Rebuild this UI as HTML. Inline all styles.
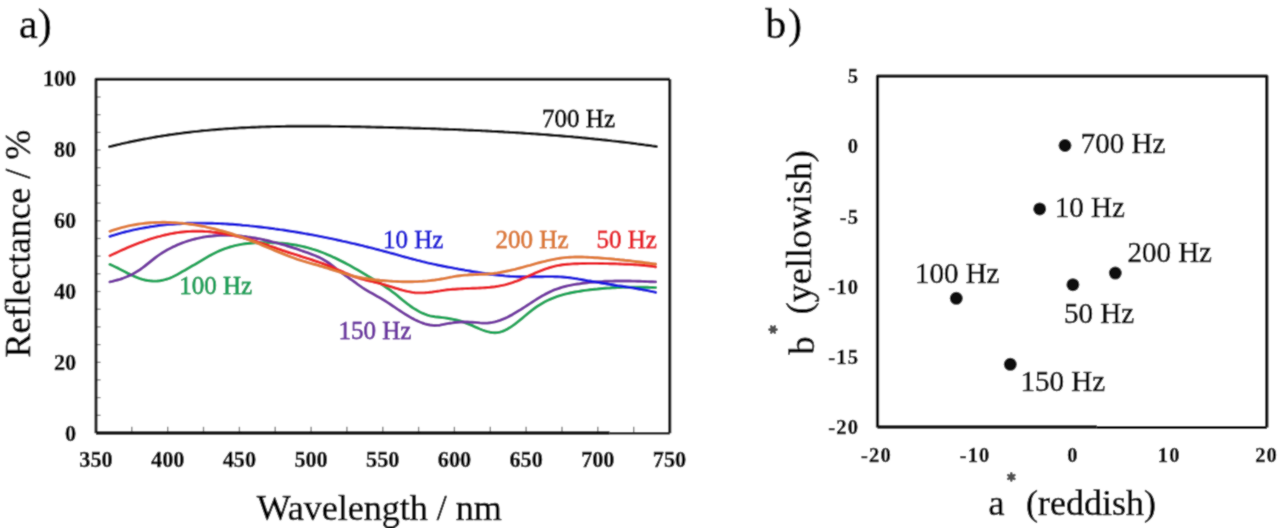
<!DOCTYPE html>
<html><head><meta charset="utf-8"><style>
html,body{margin:0;padding:0;background:#fff;}
body{width:1280px;height:528px;overflow:hidden;}
svg{display:block;}
text{font-family:"Liberation Serif",serif;stroke-width:0.55px;stroke-linejoin:round;}
.tk{stroke:#808080;}
.cv{fill:none;stroke-width:2.9;stroke-linecap:round;stroke-linejoin:round;}
.box{fill:none;stroke:#0a0a0a;stroke-linejoin:round;}
.tl{font-size:22.2px;font-weight:bold;fill:#000;stroke:#000;stroke-width:0.4px;}
.tb{font-size:20.5px;font-weight:bold;fill:#000;stroke:#000;stroke-width:0.4px;letter-spacing:1.2px;}
.la{font-size:25px;stroke-width:0.8px;}
.lb{font-size:29px;fill:#000;stroke:#000;}
.at{font-size:36px;fill:#000;stroke:#000;stroke-width:0.6px;}
.pl{font-size:42px;fill:#000;stroke:#000;stroke-width:0.6px;}
.astb{fill:none;stroke:#505050;stroke-width:2.6;stroke-linecap:round;}
</style></head><body>
<svg width="1280" height="528" viewBox="0 0 1280 528">
<defs><filter id="soft" x="0" y="0" width="1" height="1"><feConvolveMatrix order="3" kernelMatrix="1 2 1 2 12 2 1 2 1" divisor="24" edgeMode="duplicate"/></filter></defs>
<g filter="url(#soft)">
<rect width="1280" height="528" fill="#fff"/>
<line x1="96.0" y1="415.3" x2="100.6" y2="415.3" class="tk" stroke-width="1.3"/>
<line x1="96.0" y1="397.6" x2="100.6" y2="397.6" class="tk" stroke-width="1.3"/>
<line x1="96.0" y1="379.9" x2="100.6" y2="379.9" class="tk" stroke-width="1.3"/>
<line x1="96.0" y1="362.3" x2="100.6" y2="362.3" class="tk" stroke-width="1.3"/>
<line x1="96.0" y1="344.6" x2="100.6" y2="344.6" class="tk" stroke-width="1.3"/>
<line x1="96.0" y1="326.9" x2="100.6" y2="326.9" class="tk" stroke-width="1.3"/>
<line x1="96.0" y1="309.2" x2="100.6" y2="309.2" class="tk" stroke-width="1.3"/>
<line x1="96.0" y1="291.5" x2="100.6" y2="291.5" class="tk" stroke-width="1.3"/>
<line x1="96.0" y1="273.8" x2="100.6" y2="273.8" class="tk" stroke-width="1.3"/>
<line x1="96.0" y1="256.1" x2="100.6" y2="256.1" class="tk" stroke-width="1.3"/>
<line x1="96.0" y1="238.5" x2="100.6" y2="238.5" class="tk" stroke-width="1.3"/>
<line x1="96.0" y1="220.8" x2="100.6" y2="220.8" class="tk" stroke-width="1.3"/>
<line x1="96.0" y1="203.1" x2="100.6" y2="203.1" class="tk" stroke-width="1.3"/>
<line x1="96.0" y1="185.4" x2="100.6" y2="185.4" class="tk" stroke-width="1.3"/>
<line x1="96.0" y1="167.7" x2="100.6" y2="167.7" class="tk" stroke-width="1.3"/>
<line x1="96.0" y1="150.0" x2="100.6" y2="150.0" class="tk" stroke-width="1.3"/>
<line x1="96.0" y1="132.4" x2="100.6" y2="132.4" class="tk" stroke-width="1.3"/>
<line x1="96.0" y1="114.7" x2="100.6" y2="114.7" class="tk" stroke-width="1.3"/>
<line x1="96.0" y1="97.0" x2="100.6" y2="97.0" class="tk" stroke-width="1.3"/>
<line x1="131.8" y1="433.0" x2="131.8" y2="426.8" class="tk" stroke-width="1.4"/>
<line x1="167.7" y1="433.0" x2="167.7" y2="426.8" class="tk" stroke-width="1.4"/>
<line x1="203.5" y1="433.0" x2="203.5" y2="426.8" class="tk" stroke-width="1.4"/>
<line x1="239.4" y1="433.0" x2="239.4" y2="426.8" class="tk" stroke-width="1.4"/>
<line x1="275.2" y1="433.0" x2="275.2" y2="426.8" class="tk" stroke-width="1.4"/>
<line x1="311.1" y1="433.0" x2="311.1" y2="426.8" class="tk" stroke-width="1.4"/>
<line x1="346.9" y1="433.0" x2="346.9" y2="426.8" class="tk" stroke-width="1.4"/>
<line x1="382.8" y1="433.0" x2="382.8" y2="426.8" class="tk" stroke-width="1.4"/>
<line x1="418.6" y1="433.0" x2="418.6" y2="426.8" class="tk" stroke-width="1.4"/>
<line x1="454.4" y1="433.0" x2="454.4" y2="426.8" class="tk" stroke-width="1.4"/>
<line x1="490.3" y1="433.0" x2="490.3" y2="426.8" class="tk" stroke-width="1.4"/>
<line x1="526.1" y1="433.0" x2="526.1" y2="426.8" class="tk" stroke-width="1.4"/>
<line x1="562.0" y1="433.0" x2="562.0" y2="426.8" class="tk" stroke-width="1.4"/>
<line x1="597.8" y1="433.0" x2="597.8" y2="426.8" class="tk" stroke-width="1.4"/>
<line x1="633.7" y1="433.0" x2="633.7" y2="426.8" class="tk" stroke-width="1.4"/>
<path d="M109.5,146.7 L112.0,146.1 L114.5,145.5 L117.0,144.9 L119.5,144.3 L122.0,143.7 L124.5,143.1 L127.0,142.6 L129.5,142.0 L132.0,141.5 L134.5,141.0 L137.0,140.5 L139.5,140.0 L142.0,139.5 L144.5,139.0 L147.0,138.6 L149.5,138.1 L152.0,137.7 L154.5,137.2 L157.0,136.8 L159.5,136.4 L162.0,136.0 L164.5,135.6 L167.0,135.2 L169.5,134.8 L172.0,134.5 L174.5,134.1 L177.0,133.8 L179.5,133.5 L182.0,133.1 L184.5,132.8 L187.0,132.5 L189.5,132.2 L192.0,131.9 L194.5,131.6 L197.0,131.4 L199.5,131.1 L202.0,130.8 L204.5,130.6 L207.0,130.4 L209.5,130.1 L212.0,129.9 L214.5,129.7 L217.0,129.5 L219.5,129.3 L222.0,129.1 L224.5,128.9 L227.0,128.7 L229.5,128.6 L232.0,128.4 L234.5,128.2 L237.0,128.1 L239.5,127.9 L242.0,127.8 L244.5,127.7 L247.0,127.6 L249.5,127.4 L252.0,127.3 L254.5,127.2 L257.0,127.1 L259.5,127.0 L262.0,126.9 L264.5,126.9 L267.0,126.8 L269.5,126.7 L272.0,126.6 L274.5,126.6 L277.0,126.5 L279.5,126.5 L282.0,126.4 L284.5,126.4 L287.0,126.3 L289.5,126.3 L292.0,126.3 L294.5,126.3 L297.0,126.2 L299.5,126.2 L302.0,126.2 L304.5,126.2 L307.0,126.2 L309.5,126.2 L312.0,126.2 L314.5,126.2 L317.0,126.2 L319.5,126.2 L322.0,126.3 L324.5,126.3 L327.0,126.3 L329.5,126.3 L332.0,126.4 L334.5,126.4 L337.0,126.4 L339.5,126.5 L342.0,126.5 L344.5,126.5 L347.0,126.6 L349.5,126.6 L352.0,126.7 L354.5,126.7 L357.0,126.8 L359.5,126.8 L362.0,126.9 L364.5,126.9 L367.0,127.0 L369.5,127.0 L372.0,127.1 L374.5,127.1 L377.0,127.2 L379.5,127.2 L382.0,127.3 L384.5,127.4 L387.0,127.4 L389.5,127.5 L392.0,127.5 L394.5,127.6 L397.0,127.7 L399.5,127.7 L402.0,127.8 L404.5,127.9 L407.0,127.9 L409.5,128.0 L412.0,128.1 L414.5,128.2 L417.0,128.2 L419.5,128.3 L422.0,128.4 L424.5,128.5 L427.0,128.6 L429.5,128.6 L432.0,128.7 L434.5,128.8 L437.0,128.9 L439.5,129.0 L442.0,129.1 L444.5,129.2 L447.0,129.3 L449.5,129.4 L452.0,129.4 L454.5,129.5 L457.0,129.6 L459.5,129.7 L462.0,129.9 L464.5,130.0 L467.0,130.1 L469.5,130.2 L472.0,130.3 L474.5,130.4 L477.0,130.5 L479.5,130.6 L482.0,130.8 L484.5,130.9 L487.0,131.0 L489.5,131.1 L492.0,131.3 L494.5,131.4 L497.0,131.5 L499.5,131.7 L502.0,131.8 L504.5,132.0 L507.0,132.1 L509.5,132.3 L512.0,132.4 L514.5,132.6 L517.0,132.7 L519.5,132.9 L522.0,133.0 L524.5,133.2 L527.0,133.4 L529.5,133.5 L532.0,133.7 L534.5,133.9 L537.0,134.0 L539.5,134.2 L542.0,134.4 L544.5,134.6 L547.0,134.8 L549.5,135.0 L552.0,135.2 L554.5,135.4 L557.0,135.6 L559.5,135.8 L562.0,136.0 L564.5,136.2 L567.0,136.4 L569.5,136.6 L572.0,136.8 L574.5,137.1 L577.0,137.3 L579.5,137.5 L582.0,137.8 L584.5,138.0 L587.0,138.2 L589.5,138.5 L592.0,138.7 L594.5,139.0 L597.0,139.2 L599.5,139.5 L602.0,139.8 L604.5,140.0 L607.0,140.3 L609.5,140.6 L612.0,140.9 L614.5,141.1 L617.0,141.4 L619.5,141.7 L622.0,142.0 L624.5,142.3 L627.0,142.6 L629.5,142.9 L632.0,143.2 L634.5,143.5 L637.0,143.9 L639.5,144.2 L642.0,144.5 L644.5,144.9 L647.0,145.2 L649.5,145.5 L652.0,145.9 L654.5,146.2 L656.4,146.5" stroke="#111111" class="cv"/>
<path d="M109.9,264.4 L112.4,265.5 L114.9,266.7 L117.4,267.9 L119.9,269.2 L122.4,270.5 L124.9,271.8 L127.4,273.1 L129.9,274.3 L132.4,275.5 L134.9,276.7 L137.4,277.7 L139.9,278.6 L142.4,279.4 L144.9,280.0 L147.4,280.5 L149.9,280.8 L152.4,281.0 L154.9,281.1 L157.4,281.0 L159.9,280.7 L162.4,280.3 L164.9,279.7 L167.4,279.0 L169.9,278.1 L172.4,277.0 L174.9,275.8 L177.4,274.5 L179.9,273.1 L182.4,271.6 L184.9,270.2 L187.4,268.7 L189.9,267.3 L192.4,265.8 L194.9,264.4 L197.4,262.9 L199.9,261.4 L202.4,259.9 L204.9,258.4 L207.4,257.0 L209.9,255.6 L212.4,254.3 L214.9,253.0 L217.4,251.8 L219.9,250.6 L222.4,249.6 L224.9,248.6 L227.4,247.8 L229.9,247.0 L232.4,246.3 L234.9,245.6 L237.4,245.1 L239.9,244.6 L242.4,244.1 L244.9,243.8 L247.4,243.5 L249.9,243.2 L252.4,243.0 L254.9,242.8 L257.4,242.7 L259.9,242.6 L262.4,242.6 L264.9,242.6 L267.4,242.6 L269.9,242.6 L272.4,242.7 L274.9,242.8 L277.4,242.9 L279.9,243.1 L282.4,243.3 L284.9,243.5 L287.4,243.8 L289.9,244.1 L292.4,244.5 L294.9,244.9 L297.4,245.3 L299.9,245.8 L302.4,246.4 L304.9,247.0 L307.4,247.6 L309.9,248.3 L312.4,249.1 L314.9,249.8 L317.4,250.7 L319.9,251.6 L322.4,252.5 L324.9,253.5 L327.4,254.6 L329.9,255.6 L332.4,256.8 L334.9,257.9 L337.4,259.1 L339.9,260.4 L342.4,261.6 L344.9,262.9 L347.4,264.2 L349.9,265.6 L352.4,267.0 L354.9,268.4 L357.4,269.8 L359.9,271.3 L362.4,272.8 L364.9,274.3 L367.4,275.8 L369.9,277.2 L372.4,278.7 L374.9,280.2 L377.4,281.8 L379.9,283.3 L382.4,284.9 L384.9,286.5 L387.4,288.2 L389.9,289.9 L392.4,291.8 L394.9,293.7 L397.4,295.7 L399.9,297.8 L402.4,299.9 L404.9,301.9 L407.4,303.8 L409.9,305.7 L412.4,307.5 L414.9,309.1 L417.4,310.6 L419.9,312.0 L422.4,313.2 L424.9,314.2 L427.4,315.1 L429.9,315.8 L432.4,316.3 L434.9,316.7 L437.4,317.0 L439.9,317.3 L442.4,317.6 L444.9,317.9 L447.4,318.3 L449.9,318.7 L452.4,319.1 L454.9,319.6 L457.4,320.2 L459.9,320.9 L462.4,321.7 L464.9,322.6 L467.4,323.6 L469.9,324.6 L472.4,325.7 L474.9,326.8 L477.4,327.9 L479.9,329.0 L482.4,330.0 L484.9,330.9 L487.4,331.6 L489.9,332.2 L492.4,332.6 L494.9,332.7 L497.4,332.6 L499.9,332.1 L502.4,331.4 L504.9,330.3 L507.4,329.1 L509.9,327.6 L512.4,325.9 L514.9,324.1 L517.4,322.2 L519.9,320.2 L522.4,318.1 L524.9,316.0 L527.4,313.9 L529.9,311.9 L532.4,309.9 L534.9,308.0 L537.4,306.3 L539.9,304.7 L542.4,303.2 L544.9,301.8 L547.4,300.5 L549.9,299.4 L552.4,298.3 L554.9,297.3 L557.4,296.4 L559.9,295.6 L562.4,294.9 L564.9,294.2 L567.4,293.6 L569.9,293.0 L572.4,292.5 L574.9,292.0 L577.4,291.6 L579.9,291.2 L582.4,290.8 L584.9,290.4 L587.4,290.1 L589.9,289.8 L592.4,289.5 L594.9,289.2 L597.4,289.0 L599.9,288.7 L602.4,288.5 L604.9,288.3 L607.4,288.1 L609.9,288.0 L612.4,287.8 L614.9,287.7 L617.4,287.6 L619.9,287.5 L622.4,287.4 L624.9,287.3 L627.4,287.3 L629.9,287.2 L632.4,287.2 L634.9,287.2 L637.4,287.2 L639.9,287.2 L642.4,287.2 L644.9,287.3 L647.4,287.3 L649.9,287.4 L652.4,287.5 L654.9,287.6 L655.7,287.6" stroke="#10a454" class="cv"/>
<path d="M109.9,281.9 L112.4,281.4 L114.9,280.7 L117.4,280.0 L119.9,279.3 L122.4,278.5 L124.9,277.5 L127.4,276.5 L129.9,275.4 L132.4,274.2 L134.9,272.8 L137.4,271.3 L139.9,269.7 L142.4,267.9 L144.9,266.0 L147.4,264.0 L149.9,262.0 L152.4,260.0 L154.9,258.0 L157.4,256.1 L159.9,254.4 L162.4,252.8 L164.9,251.3 L167.4,249.8 L169.9,248.5 L172.4,247.2 L174.9,246.1 L177.4,244.9 L179.9,243.9 L182.4,242.9 L184.9,242.0 L187.4,241.1 L189.9,240.4 L192.4,239.6 L194.9,239.0 L197.4,238.4 L199.9,237.8 L202.4,237.3 L204.9,236.9 L207.4,236.5 L209.9,236.2 L212.4,236.0 L214.9,235.7 L217.4,235.6 L219.9,235.4 L222.4,235.4 L224.9,235.3 L227.4,235.3 L229.9,235.4 L232.4,235.5 L234.9,235.6 L237.4,235.8 L239.9,236.0 L242.4,236.3 L244.9,236.5 L247.4,236.9 L249.9,237.2 L252.4,237.6 L254.9,238.0 L257.4,238.5 L259.9,238.9 L262.4,239.4 L264.9,240.0 L267.4,240.5 L269.9,241.1 L272.4,241.8 L274.9,242.4 L277.4,243.1 L279.9,243.8 L282.4,244.5 L284.9,245.2 L287.4,246.0 L289.9,246.8 L292.4,247.6 L294.9,248.4 L297.4,249.2 L299.9,250.1 L302.4,251.0 L304.9,251.8 L307.4,252.7 L309.9,253.7 L312.4,254.6 L314.9,255.5 L317.4,256.6 L319.9,257.7 L322.4,259.0 L324.9,260.4 L327.4,262.0 L329.9,263.8 L332.4,265.6 L334.9,267.6 L337.4,269.6 L339.9,271.5 L342.4,273.3 L344.9,275.2 L347.4,276.9 L349.9,278.7 L352.4,280.4 L354.9,282.2 L357.4,284.1 L359.9,285.9 L362.4,287.6 L364.9,289.2 L367.4,290.7 L369.9,292.2 L372.4,293.6 L374.9,295.0 L377.4,296.4 L379.9,297.8 L382.4,299.3 L384.9,300.8 L387.4,302.4 L389.9,304.0 L392.4,305.7 L394.9,307.4 L397.4,309.1 L399.9,310.7 L402.4,312.4 L404.9,314.0 L407.4,315.5 L409.9,317.0 L412.4,318.4 L414.9,319.7 L417.4,320.9 L419.9,322.0 L422.4,323.0 L424.9,323.8 L427.4,324.5 L429.9,325.0 L432.4,325.3 L434.9,325.5 L437.4,325.4 L439.9,325.2 L442.4,324.7 L444.9,324.2 L447.4,323.7 L449.9,323.2 L452.4,322.9 L454.9,322.5 L457.4,322.3 L459.9,322.1 L462.4,322.0 L464.9,322.0 L467.4,322.0 L469.9,322.1 L472.4,322.2 L474.9,322.4 L477.4,322.6 L479.9,322.9 L482.4,323.1 L484.9,323.1 L487.4,323.1 L489.9,322.8 L492.4,322.4 L494.9,321.9 L497.4,321.2 L499.9,320.4 L502.4,319.4 L504.9,318.4 L507.4,317.2 L509.9,315.9 L512.4,314.6 L514.9,313.1 L517.4,311.6 L519.9,310.1 L522.4,308.5 L524.9,306.9 L527.4,305.2 L529.9,303.6 L532.4,302.0 L534.9,300.4 L537.4,298.8 L539.9,297.3 L542.4,295.8 L544.9,294.4 L547.4,293.1 L549.9,291.9 L552.4,290.7 L554.9,289.7 L557.4,288.8 L559.9,288.0 L562.4,287.2 L564.9,286.5 L567.4,285.9 L569.9,285.4 L572.4,284.9 L574.9,284.4 L577.4,284.0 L579.9,283.7 L582.4,283.3 L584.9,283.0 L587.4,282.7 L589.9,282.4 L592.4,282.2 L594.9,282.0 L597.4,281.8 L599.9,281.6 L602.4,281.5 L604.9,281.3 L607.4,281.2 L609.9,281.1 L612.4,281.1 L614.9,281.0 L617.4,281.0 L619.9,281.0 L622.4,281.0 L624.9,281.0 L627.4,281.0 L629.9,281.0 L632.4,281.1 L634.9,281.1 L637.4,281.2 L639.9,281.3 L642.4,281.4 L644.9,281.5 L647.4,281.6 L649.9,281.7 L652.4,281.8 L654.9,281.9 L655.7,281.9" stroke="#7032a0" class="cv"/>
<path d="M109.9,236.4 L112.4,235.6 L114.9,234.9 L117.4,234.1 L119.9,233.4 L122.4,232.7 L124.9,232.0 L127.4,231.4 L129.9,230.8 L132.4,230.2 L134.9,229.7 L137.4,229.1 L139.9,228.6 L142.4,228.1 L144.9,227.7 L147.4,227.3 L149.9,226.8 L152.4,226.5 L154.9,226.1 L157.4,225.8 L159.9,225.4 L162.4,225.1 L164.9,224.9 L167.4,224.6 L169.9,224.4 L172.4,224.2 L174.9,224.0 L177.4,223.8 L179.9,223.7 L182.4,223.5 L184.9,223.4 L187.4,223.3 L189.9,223.2 L192.4,223.2 L194.9,223.1 L197.4,223.1 L199.9,223.1 L202.4,223.1 L204.9,223.1 L207.4,223.2 L209.9,223.2 L212.4,223.3 L214.9,223.4 L217.4,223.5 L219.9,223.6 L222.4,223.7 L224.9,223.9 L227.4,224.0 L229.9,224.2 L232.4,224.3 L234.9,224.5 L237.4,224.7 L239.9,224.9 L242.4,225.2 L244.9,225.4 L247.4,225.6 L249.9,225.9 L252.4,226.1 L254.9,226.4 L257.4,226.7 L259.9,227.0 L262.4,227.3 L264.9,227.6 L267.4,227.9 L269.9,228.2 L272.4,228.5 L274.9,228.9 L277.4,229.2 L279.9,229.6 L282.4,229.9 L284.9,230.3 L287.4,230.7 L289.9,231.1 L292.4,231.5 L294.9,231.9 L297.4,232.3 L299.9,232.7 L302.4,233.1 L304.9,233.6 L307.4,234.0 L309.9,234.5 L312.4,234.9 L314.9,235.4 L317.4,235.9 L319.9,236.4 L322.4,236.9 L324.9,237.4 L327.4,237.9 L329.9,238.4 L332.4,238.9 L334.9,239.4 L337.4,240.0 L339.9,240.5 L342.4,241.1 L344.9,241.6 L347.4,242.2 L349.9,242.8 L352.4,243.4 L354.9,243.9 L357.4,244.5 L359.9,245.1 L362.4,245.7 L364.9,246.4 L367.4,247.0 L369.9,247.6 L372.4,248.2 L374.9,248.9 L377.4,249.5 L379.9,250.2 L382.4,250.8 L384.9,251.5 L387.4,252.2 L389.9,252.9 L392.4,253.5 L394.9,254.2 L397.4,254.9 L399.9,255.6 L402.4,256.3 L404.9,257.0 L407.4,257.6 L409.9,258.3 L412.4,259.0 L414.9,259.6 L417.4,260.3 L419.9,260.9 L422.4,261.6 L424.9,262.2 L427.4,262.8 L429.9,263.3 L432.4,263.9 L434.9,264.4 L437.4,265.0 L439.9,265.5 L442.4,266.0 L444.9,266.5 L447.4,267.0 L449.9,267.4 L452.4,267.9 L454.9,268.4 L457.4,268.8 L459.9,269.3 L462.4,269.7 L464.9,270.2 L467.4,270.6 L469.9,271.0 L472.4,271.5 L474.9,271.9 L477.4,272.3 L479.9,272.7 L482.4,273.1 L484.9,273.5 L487.4,273.8 L489.9,274.2 L492.4,274.5 L494.9,274.8 L497.4,275.1 L499.9,275.4 L502.4,275.6 L504.9,275.9 L507.4,276.1 L509.9,276.3 L512.4,276.4 L514.9,276.6 L517.4,276.7 L519.9,276.8 L522.4,276.8 L524.9,276.8 L527.4,276.8 L529.9,276.8 L532.4,276.8 L534.9,276.8 L537.4,276.7 L539.9,276.7 L542.4,276.7 L544.9,276.6 L547.4,276.6 L549.9,276.6 L552.4,276.6 L554.9,276.7 L557.4,276.8 L559.9,276.9 L562.4,277.0 L564.9,277.2 L567.4,277.5 L569.9,277.8 L572.4,278.1 L574.9,278.5 L577.4,278.8 L579.9,279.3 L582.4,279.7 L584.9,280.1 L587.4,280.6 L589.9,281.0 L592.4,281.5 L594.9,281.9 L597.4,282.4 L599.9,282.8 L602.4,283.2 L604.9,283.6 L607.4,284.0 L609.9,284.4 L612.4,284.8 L614.9,285.2 L617.4,285.6 L619.9,285.9 L622.4,286.3 L624.9,286.7 L627.4,287.1 L629.9,287.5 L632.4,287.9 L634.9,288.3 L637.4,288.8 L639.9,289.2 L642.4,289.7 L644.9,290.1 L647.4,290.6 L649.9,291.1 L652.4,291.6 L654.9,292.2 L655.7,292.4" stroke="#1414e0" class="cv"/>
<path d="M109.9,255.7 L112.4,254.5 L114.9,253.4 L117.4,252.2 L119.9,251.0 L122.4,249.9 L124.9,248.8 L127.4,247.7 L129.9,246.7 L132.4,245.6 L134.9,244.6 L137.4,243.6 L139.9,242.7 L142.4,241.8 L144.9,240.9 L147.4,240.0 L149.9,239.2 L152.4,238.4 L154.9,237.7 L157.4,236.9 L159.9,236.3 L162.4,235.6 L164.9,235.0 L167.4,234.5 L169.9,233.9 L172.4,233.5 L174.9,233.0 L177.4,232.6 L179.9,232.3 L182.4,232.0 L184.9,231.7 L187.4,231.5 L189.9,231.4 L192.4,231.3 L194.9,231.2 L197.4,231.2 L199.9,231.3 L202.4,231.3 L204.9,231.5 L207.4,231.6 L209.9,231.8 L212.4,232.1 L214.9,232.4 L217.4,232.7 L219.9,233.0 L222.4,233.4 L224.9,233.8 L227.4,234.3 L229.9,234.8 L232.4,235.3 L234.9,235.9 L237.4,236.4 L239.9,237.0 L242.4,237.7 L244.9,238.3 L247.4,239.0 L249.9,239.7 L252.4,240.5 L254.9,241.2 L257.4,242.0 L259.9,242.8 L262.4,243.6 L264.9,244.4 L267.4,245.2 L269.9,246.1 L272.4,246.9 L274.9,247.7 L277.4,248.6 L279.9,249.4 L282.4,250.3 L284.9,251.1 L287.4,252.0 L289.9,252.8 L292.4,253.6 L294.9,254.4 L297.4,255.2 L299.9,256.0 L302.4,256.8 L304.9,257.6 L307.4,258.4 L309.9,259.2 L312.4,260.0 L314.9,260.8 L317.4,261.6 L319.9,262.5 L322.4,263.4 L324.9,264.4 L327.4,265.3 L329.9,266.4 L332.4,267.4 L334.9,268.5 L337.4,269.6 L339.9,270.6 L342.4,271.7 L344.9,272.8 L347.4,273.8 L349.9,274.9 L352.4,275.8 L354.9,276.8 L357.4,277.6 L359.9,278.5 L362.4,279.2 L364.9,279.9 L367.4,280.5 L369.9,281.1 L372.4,281.7 L374.9,282.3 L377.4,282.9 L379.9,283.5 L382.4,284.2 L384.9,284.9 L387.4,285.6 L389.9,286.4 L392.4,287.2 L394.9,288.0 L397.4,288.7 L399.9,289.5 L402.4,290.2 L404.9,290.8 L407.4,291.4 L409.9,291.9 L412.4,292.4 L414.9,292.7 L417.4,292.9 L419.9,292.9 L422.4,292.9 L424.9,292.8 L427.4,292.6 L429.9,292.3 L432.4,292.0 L434.9,291.6 L437.4,291.2 L439.9,290.9 L442.4,290.5 L444.9,290.1 L447.4,289.8 L449.9,289.6 L452.4,289.3 L454.9,289.2 L457.4,289.0 L459.9,288.9 L462.4,288.7 L464.9,288.6 L467.4,288.5 L469.9,288.4 L472.4,288.3 L474.9,288.2 L477.4,288.1 L479.9,288.0 L482.4,287.9 L484.9,287.7 L487.4,287.5 L489.9,287.3 L492.4,287.0 L494.9,286.7 L497.4,286.3 L499.9,285.8 L502.4,285.3 L504.9,284.8 L507.4,284.1 L509.9,283.4 L512.4,282.6 L514.9,281.7 L517.4,280.8 L519.9,279.8 L522.4,278.7 L524.9,277.6 L527.4,276.5 L529.9,275.4 L532.4,274.3 L534.9,273.2 L537.4,272.1 L539.9,271.1 L542.4,270.1 L544.9,269.1 L547.4,268.3 L549.9,267.5 L552.4,266.8 L554.9,266.2 L557.4,265.7 L559.9,265.2 L562.4,264.8 L564.9,264.5 L567.4,264.3 L569.9,264.1 L572.4,263.9 L574.9,263.8 L577.4,263.7 L579.9,263.6 L582.4,263.5 L584.9,263.5 L587.4,263.4 L589.9,263.4 L592.4,263.4 L594.9,263.4 L597.4,263.4 L599.9,263.5 L602.4,263.5 L604.9,263.6 L607.4,263.6 L609.9,263.7 L612.4,263.8 L614.9,263.8 L617.4,263.9 L619.9,264.0 L622.4,264.1 L624.9,264.2 L627.4,264.3 L629.9,264.4 L632.4,264.6 L634.9,264.7 L637.4,264.9 L639.9,265.0 L642.4,265.2 L644.9,265.5 L647.4,265.7 L649.9,266.0 L652.4,266.4 L654.9,266.7 L655.7,266.9" stroke="#ec1c24" class="cv"/>
<path d="M109.9,231.3 L112.4,230.4 L114.9,229.6 L117.4,228.8 L119.9,228.1 L122.4,227.4 L124.9,226.8 L127.4,226.2 L129.9,225.6 L132.4,225.1 L134.9,224.7 L137.4,224.3 L139.9,223.9 L142.4,223.6 L144.9,223.3 L147.4,223.0 L149.9,222.8 L152.4,222.6 L154.9,222.5 L157.4,222.4 L159.9,222.4 L162.4,222.3 L164.9,222.3 L167.4,222.4 L169.9,222.5 L172.4,222.6 L174.9,222.7 L177.4,222.9 L179.9,223.1 L182.4,223.3 L184.9,223.6 L187.4,223.9 L189.9,224.2 L192.4,224.5 L194.9,224.9 L197.4,225.3 L199.9,225.8 L202.4,226.2 L204.9,226.7 L207.4,227.3 L209.9,227.8 L212.4,228.4 L214.9,229.0 L217.4,229.6 L219.9,230.3 L222.4,231.0 L224.9,231.7 L227.4,232.4 L229.9,233.2 L232.4,234.0 L234.9,234.8 L237.4,235.6 L239.9,236.5 L242.4,237.4 L244.9,238.3 L247.4,239.2 L249.9,240.2 L252.4,241.2 L254.9,242.2 L257.4,243.2 L259.9,244.2 L262.4,245.3 L264.9,246.4 L267.4,247.4 L269.9,248.5 L272.4,249.5 L274.9,250.6 L277.4,251.6 L279.9,252.7 L282.4,253.7 L284.9,254.7 L287.4,255.7 L289.9,256.6 L292.4,257.5 L294.9,258.4 L297.4,259.3 L299.9,260.1 L302.4,260.9 L304.9,261.6 L307.4,262.4 L309.9,263.1 L312.4,263.8 L314.9,264.5 L317.4,265.2 L319.9,266.0 L322.4,266.7 L324.9,267.5 L327.4,268.2 L329.9,269.0 L332.4,269.8 L334.9,270.6 L337.4,271.4 L339.9,272.2 L342.4,273.0 L344.9,273.7 L347.4,274.4 L349.9,275.1 L352.4,275.8 L354.9,276.4 L357.4,277.0 L359.9,277.5 L362.4,278.0 L364.9,278.4 L367.4,278.8 L369.9,279.1 L372.4,279.5 L374.9,279.8 L377.4,280.0 L379.9,280.3 L382.4,280.5 L384.9,280.7 L387.4,280.9 L389.9,281.1 L392.4,281.3 L394.9,281.4 L397.4,281.5 L399.9,281.6 L402.4,281.7 L404.9,281.7 L407.4,281.7 L409.9,281.7 L412.4,281.7 L414.9,281.6 L417.4,281.6 L419.9,281.4 L422.4,281.3 L424.9,281.1 L427.4,280.9 L429.9,280.6 L432.4,280.3 L434.9,280.0 L437.4,279.6 L439.9,279.2 L442.4,278.8 L444.9,278.3 L447.4,277.8 L449.9,277.3 L452.4,276.9 L454.9,276.4 L457.4,276.0 L459.9,275.7 L462.4,275.4 L464.9,275.1 L467.4,275.0 L469.9,274.8 L472.4,274.7 L474.9,274.6 L477.4,274.5 L479.9,274.4 L482.4,274.3 L484.9,274.2 L487.4,274.0 L489.9,273.8 L492.4,273.6 L494.9,273.2 L497.4,272.9 L499.9,272.5 L502.4,272.0 L504.9,271.5 L507.4,271.0 L509.9,270.5 L512.4,269.9 L514.9,269.3 L517.4,268.6 L519.9,268.0 L522.4,267.3 L524.9,266.6 L527.4,265.9 L529.9,265.3 L532.4,264.6 L534.9,263.9 L537.4,263.2 L539.9,262.5 L542.4,261.9 L544.9,261.3 L547.4,260.7 L549.9,260.1 L552.4,259.6 L554.9,259.1 L557.4,258.6 L559.9,258.2 L562.4,257.9 L564.9,257.6 L567.4,257.4 L569.9,257.2 L572.4,257.1 L574.9,257.0 L577.4,257.0 L579.9,257.0 L582.4,257.0 L584.9,257.1 L587.4,257.2 L589.9,257.4 L592.4,257.5 L594.9,257.7 L597.4,257.8 L599.9,258.0 L602.4,258.2 L604.9,258.4 L607.4,258.6 L609.9,258.8 L612.4,259.0 L614.9,259.3 L617.4,259.5 L619.9,259.8 L622.4,260.0 L624.9,260.3 L627.4,260.5 L629.9,260.8 L632.4,261.1 L634.9,261.4 L637.4,261.7 L639.9,262.0 L642.4,262.3 L644.9,262.6 L647.4,262.9 L649.9,263.3 L652.4,263.6 L654.9,263.9 L655.7,264.0" stroke="#e07a34" class="cv"/>
<path d="M96,433.2 V79.3 H669.8" class="box" stroke-width="2.9"/>
<path d="M669.8,79.3 V433.2" class="box" stroke-width="3.0"/>
<path d="M609.5,433.3 H669.8" class="box" stroke-width="2.4" stroke-linecap="butt"/>
<path d="M96,433.0 H609.5" class="box" stroke-width="3.4" stroke-linecap="butt"/>
<text transform="translate(76.2,440.80) scale(1,1.07)" class="tl" text-anchor="end">0</text>
<text transform="translate(76.2,369.91) scale(1,1.07)" class="tl" text-anchor="end">20</text>
<text transform="translate(76.2,299.02) scale(1,1.07)" class="tl" text-anchor="end">40</text>
<text transform="translate(76.2,228.13) scale(1,1.07)" class="tl" text-anchor="end">60</text>
<text transform="translate(76.2,157.24) scale(1,1.07)" class="tl" text-anchor="end">80</text>
<text transform="translate(76.2,86.35) scale(1,1.07)" class="tl" text-anchor="end">100</text>
<text transform="translate(96.00,467.4) scale(1,1.07)" class="tl" text-anchor="middle">350</text>
<text transform="translate(167.69,467.4) scale(1,1.07)" class="tl" text-anchor="middle">400</text>
<text transform="translate(239.38,467.4) scale(1,1.07)" class="tl" text-anchor="middle">450</text>
<text transform="translate(311.06,467.4) scale(1,1.07)" class="tl" text-anchor="middle">500</text>
<text transform="translate(382.75,467.4) scale(1,1.07)" class="tl" text-anchor="middle">550</text>
<text transform="translate(454.44,467.4) scale(1,1.07)" class="tl" text-anchor="middle">600</text>
<text transform="translate(526.12,467.4) scale(1,1.07)" class="tl" text-anchor="middle">650</text>
<text transform="translate(597.81,467.4) scale(1,1.07)" class="tl" text-anchor="middle">700</text>
<text transform="translate(669.50,467.4) scale(1,1.07)" class="tl" text-anchor="middle">750</text>
<text x="542.1" y="127.2" class="la" fill="#000" stroke="#000">700 Hz</text>
<text x="383.0" y="247.9" class="la" fill="#1a1ad8" stroke="#1a1ad8">10 Hz</text>
<text x="495.6" y="247.9" class="la" fill="#dc7a36" stroke="#dc7a36">200 Hz</text>
<text x="596.5" y="247.9" class="la" fill="#e82028" stroke="#e82028">50 Hz</text>
<text x="179.2" y="293.6" class="la" fill="#18a058" stroke="#18a058">100 Hz</text>
<text x="338.5" y="338.8" class="la" fill="#6c34a0" stroke="#6c34a0">150 Hz</text>
<text x="379.3" y="520" class="at" text-anchor="middle">Wavelength / nm</text>
<text transform="translate(30.2,243.6) rotate(-90)" class="at" text-anchor="middle">Reflectance / %</text>
<text x="19" y="37.5" class="pl">a)</text>
<text x="765.3" y="37.5" class="pl">b<tspan dx="1.8">)</tspan></text>
<path d="M877.5,427.5 V76.2 H1266.8 V427.5" class="box" stroke-width="3.3"/>
<path d="M1096.8,427.6 H1266.8" class="box" stroke-width="3.0" stroke-linecap="butt"/>
<path d="M877.5,427.1 H1096.8" class="box" stroke-width="3.5" stroke-linecap="butt"/>
<text x="859.2" y="83.2" class="tb" text-anchor="end">5</text>
<text x="859.2" y="153.3" class="tb" text-anchor="end">0</text>
<text x="859.2" y="223.5" class="tb" text-anchor="end">-5</text>
<text x="859.2" y="293.6" class="tb" text-anchor="end">-10</text>
<text x="859.2" y="363.8" class="tb" text-anchor="end">-15</text>
<text x="859.2" y="433.9" class="tb" text-anchor="end">-20</text>
<text x="876.4" y="461.5" class="tb" text-anchor="middle">-20</text>
<text x="975.1" y="461.5" class="tb" text-anchor="middle">-10</text>
<text x="1073.1" y="461.5" class="tb" text-anchor="middle">0</text>
<text x="1169.3" y="461.5" class="tb" text-anchor="middle">10</text>
<text x="1266.6" y="461.5" class="tb" text-anchor="middle">20</text>
<circle cx="1065.0" cy="145.5" r="6.5" fill="#111"/>
<circle cx="1039.7" cy="208.9" r="6.5" fill="#111"/>
<circle cx="956.3" cy="298.3" r="6.5" fill="#111"/>
<circle cx="1072.9" cy="284.7" r="6.5" fill="#111"/>
<circle cx="1115.3" cy="273.1" r="6.5" fill="#111"/>
<circle cx="1010.3" cy="364.3" r="6.5" fill="#111"/>
<text x="1080.7" y="152.9" class="lb">700 Hz</text>
<text x="1054.7" y="216.9" class="lb">10 Hz</text>
<text x="914.9" y="282.5" class="lb">100 Hz</text>
<text x="1064.0" y="323.4" class="lb">50 Hz</text>
<text x="1127.4" y="262.2" class="lb">200 Hz</text>
<text x="1020.5" y="391.0" class="lb">150 Hz</text>
<text x="988.5" y="515" class="at">a</text>
<path d="M1011.30,473.40 L1011.30,480.60 M1014.42,475.20 L1008.18,478.80 M1014.42,478.80 L1008.18,475.20" class="astb"/>
<path d="M769.40,329.60 L776.60,329.60 M771.20,326.48 L774.80,332.72 M774.80,326.48 L771.20,332.72" class="astb"/>
<text x="1026" y="515" class="at">(reddish)</text>
<text transform="translate(813.5,354.5) rotate(-90)" class="at">b</text>
<text transform="translate(810.8,314.3) rotate(-90)" class="at">(yellowish)</text>
</g>
</svg>
</body></html>
